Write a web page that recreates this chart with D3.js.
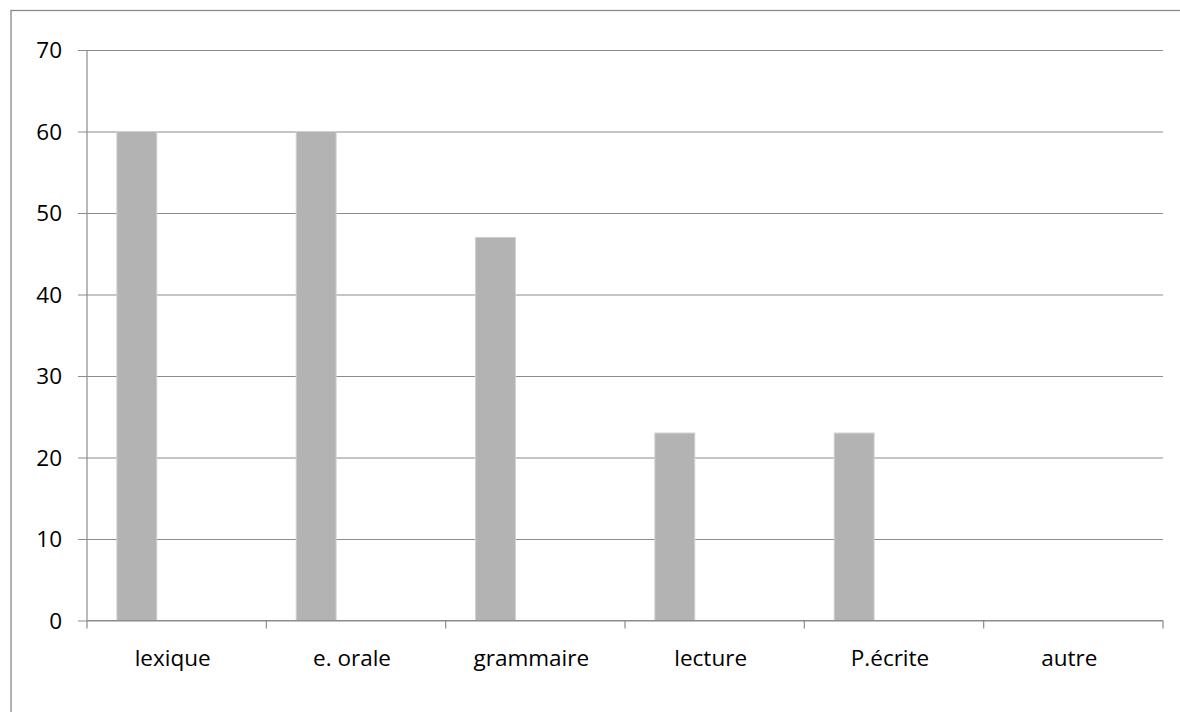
<!DOCTYPE html>
<html>
<head>
<meta charset="utf-8">
<script src="https://cdn.jsdelivr.net/npm/d3@7"></script>
<style>
  html, body { margin: 0; padding: 0; background: #fff; }
  svg { display: block; }
  text { font-family: "Open Sans", "Noto Sans", sans-serif; fill: #000; }
</style>
</head>
<body>
<svg id="chart" width="1180" height="712"></svg>
<script>
// Categories and values
const categories = ["lexique", "e. orale", "grammaire", "lecture", "P.écrite", "autre"];
const values = [60, 60, 47, 23, 23, 0];
const yTicks = [0, 10, 20, 30, 40, 50, 60, 70];
// Series slots per category (only the first one carries data)
const seriesSlots = [0, 1, 2];

const svg = d3.select("#chart");
const W = 1180, H = 712;
const plot = { left: 87, right: 1163, top: 50, bottom: 620.5 };
const labelSize = 22.5;

// Outer frame of the chart area
svg.append("rect")
  .attr("x", 11).attr("y", 10.5)
  .attr("width", W + 10).attr("height", H + 10)
  .attr("fill", "none").attr("stroke", "#888").attr("stroke-width", 1.3);

const x = d3.scaleBand().domain(categories).range([plot.left, plot.right]).paddingInner(0).paddingOuter(0);
const xSlot = d3.scaleBand().domain(seriesSlots).range([0, x.bandwidth()]).paddingInner(0).paddingOuter(0.75);
const y = d3.scaleLinear().domain([0, 70]).range([plot.bottom, plot.top]);

// Horizontal gridlines with left tick marks
const yAxis = d3.axisLeft(y).tickValues(yTicks).tickSize(plot.right - plot.left + 9).tickFormat(d3.format("d"));
const gy = svg.append("g").attr("transform", `translate(${plot.right},0)`).call(yAxis);
gy.select(".domain").remove();
gy.selectAll(".tick line").attr("stroke", "#8c8c8c").attr("stroke-width", 1.2);
gy.selectAll(".tick text")
  .attr("font-size", labelSize)
  .attr("fill", "#000")
  .attr("x", -(plot.right - 62))
  .attr("dy", "0.35em")
  .attr("text-anchor", "end");

// Bars
svg.append("g").selectAll("rect")
  .data(categories.map((c, i) => ({ c, v: values[i] })).filter(d => d.v > 0))
  .join("rect")
  .attr("x", d => x(d.c) + xSlot(0))
  .attr("y", d => y(d.v))
  .attr("width", xSlot.bandwidth())
  .attr("height", d => y(0) - y(d.v))
  .attr("fill", "#b3b3b3")
  .attr("stroke", "#cfcfcf")
  .attr("stroke-width", 1);

// Vertical axis line
svg.append("line")
  .attr("x1", plot.left).attr("x2", plot.left)
  .attr("y1", plot.top).attr("y2", plot.bottom)
  .attr("stroke", "#8c8c8c").attr("stroke-width", 1.2);

// Category axis
const boundaries = d3.range(categories.length + 1).map(i => plot.left + i * x.step());
const gx = svg.append("g");
gx.append("line")
  .attr("x1", plot.left).attr("x2", plot.right)
  .attr("y1", plot.bottom).attr("y2", plot.bottom)
  .attr("stroke", "#8c8c8c").attr("stroke-width", 1.2);
gx.selectAll("line.tick").data(boundaries).join("line")
  .attr("class", "tick")
  .attr("x1", d => d).attr("x2", d => d)
  .attr("y1", plot.bottom).attr("y2", plot.bottom + 8)
  .attr("stroke", "#8c8c8c").attr("stroke-width", 1.2);
gx.selectAll("text").data(categories).join("text")
  .attr("x", d => x(d) + x.bandwidth() / 2 - 4)
  .attr("y", 666)
  .attr("text-anchor", "middle")
  .attr("font-size", labelSize)
  .text(d => d);
</script>
</body>
</html>
